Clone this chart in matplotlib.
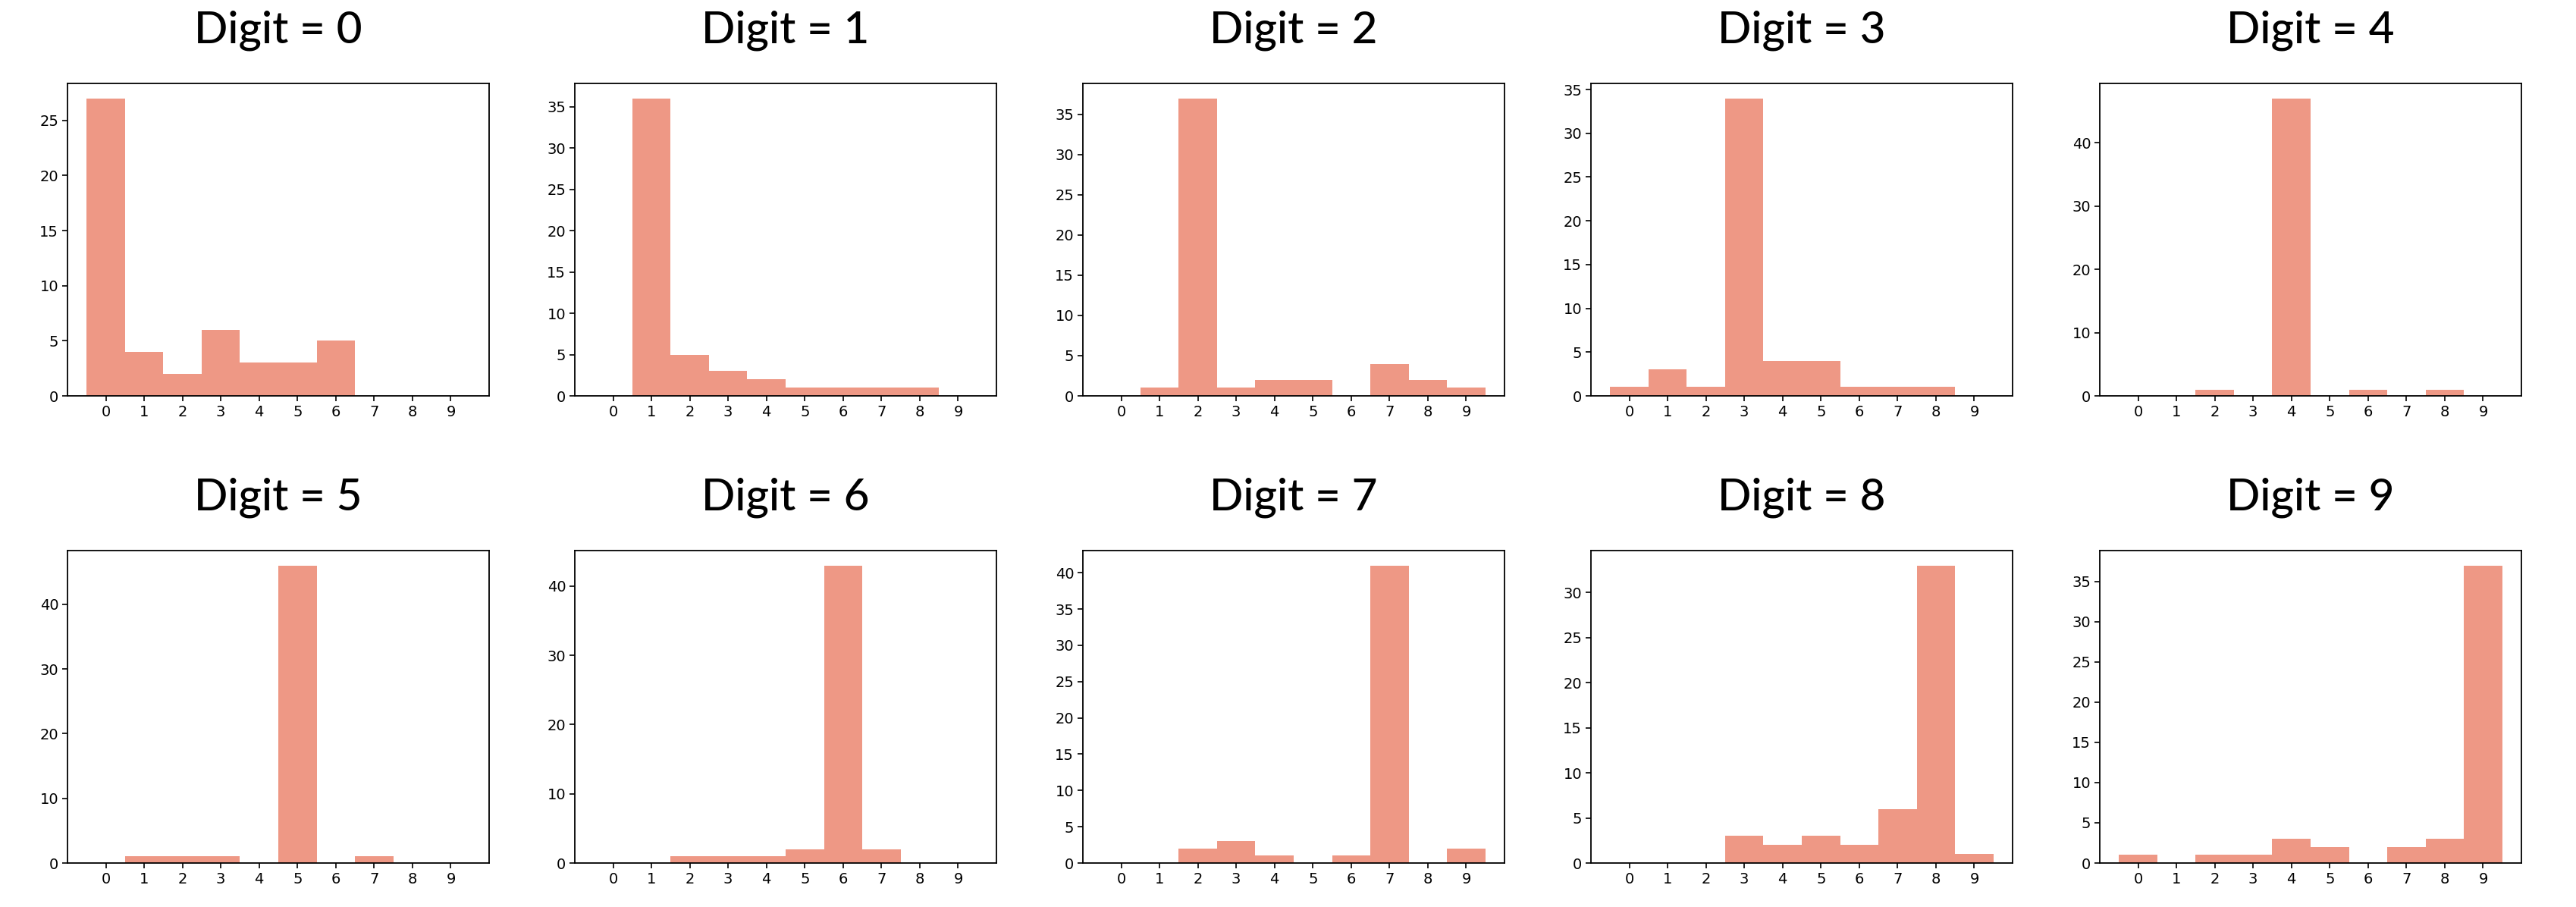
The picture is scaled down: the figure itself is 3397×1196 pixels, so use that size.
import numpy as np
import matplotlib
matplotlib.use("Agg")
from matplotlib import pyplot as plt

# predicted digit counts for each true digit (rows = true digit, cols = predicted 0..9)
digit_labels = list(range(10))

counts_0 = [27, 4, 2, 6, 3, 3, 5, 0, 0, 0]
counts_1 = [0, 36, 5, 3, 2, 1, 1, 1, 1, 0]
counts_2 = [0, 1, 37, 1, 2, 2, 0, 4, 2, 1]
counts_3 = [1, 3, 1, 34, 4, 4, 1, 1, 1, 0]
counts_4 = [0, 0, 1, 0, 47, 0, 1, 0, 1, 0]
counts_5 = [0, 1, 1, 1, 0, 46, 0, 1, 0, 0]
counts_6 = [0, 0, 1, 1, 1, 2, 43, 2, 0, 0]
counts_7 = [0, 0, 2, 3, 1, 0, 1, 41, 0, 2]
counts_8 = [0, 0, 0, 3, 2, 3, 2, 6, 33, 1]
counts_9 = [1, 0, 1, 1, 3, 2, 0, 2, 3, 37]

all_counts = [counts_0, counts_1, counts_2, counts_3, counts_4,
              counts_5, counts_6, counts_7, counts_8, counts_9]

bar_colour = "#EE9885"

fig = plt.figure(figsize=(33.98, 11.96), dpi=100)

# axes positions (in pixels)
W, H = 3398.0, 1196.0
col_lefts = [89, 758, 1428, 2098, 2769]
ax_w = 556
row_tops = [110, 726]
ax_h = 412

edges = np.arange(-0.5, 10.5, 1)

for d in range(10):
    row = d // 5
    col = d % 5
    left = col_lefts[col] / W
    bottom = 1 - (row_tops[row] + ax_h) / H
    ax = fig.add_axes([left, bottom, ax_w / W, ax_h / H])

    ax.hist(digit_labels, bins=edges, weights=all_counts[d], color=bar_colour)
    ax.set_xlim(-1, 10)
    ax.set_xticks(digit_labels)
    ax.tick_params(labelsize=14, length=5, width=1.2)
    for s in ax.spines.values():
        s.set_linewidth(1.3)

    # title sits well above the axes
    cx = left + ax_w / W / 2
    ty = 1 - (row_tops[row] - 70) / H
    fig.text(cx, ty, "Digit = %d" % d, ha="center", va="center",
             fontsize=42, fontweight=500, family=["Lato", "DejaVu Sans"])

fig.savefig("out.png", dpi=100)
